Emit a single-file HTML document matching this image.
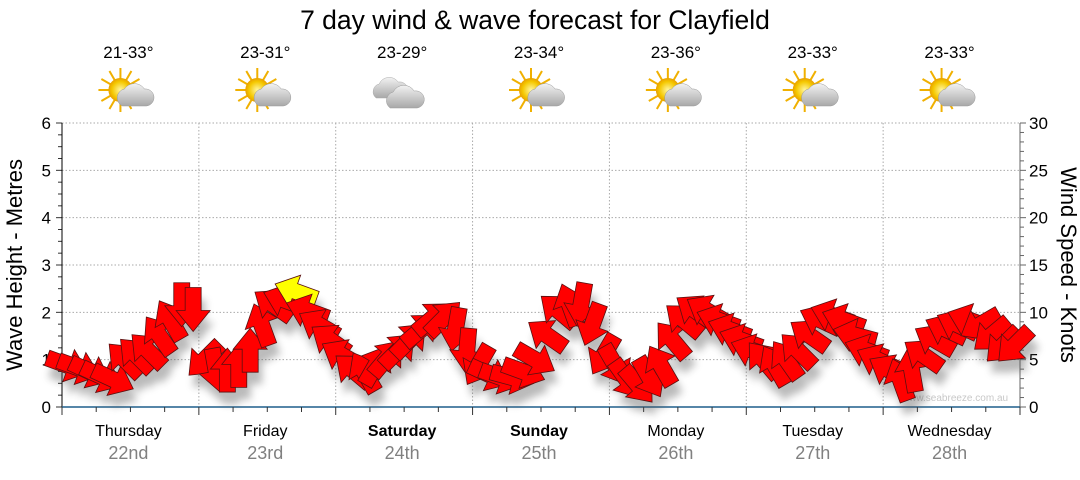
<!DOCTYPE html>
<html><head><meta charset="utf-8"><style>
body{margin:0;background:#fff;}
svg text{font-family:"Liberation Sans","DejaVu Sans",sans-serif;}
</style></head><body>
<svg id="chart" width="1080" height="475" viewBox="0 0 1080 475" xmlns="http://www.w3.org/2000/svg">
<defs>
<filter id="sh" x="-50%" y="-50%" width="200%" height="200%"><feGaussianBlur stdDeviation="4"/></filter>
<radialGradient id="sunG" cx="50%" cy="50%" r="50%"><stop offset="0" stop-color="#fff6a0"/><stop offset="0.7" stop-color="#f5c800"/><stop offset="1" stop-color="#e8a000"/></radialGradient>
<linearGradient id="cloudG" x1="0" y1="0" x2="0" y2="1"><stop offset="0" stop-color="#f2f2f2"/><stop offset="1" stop-color="#a8a8a8"/></linearGradient>
</defs>
<text x="535" y="29" font-size="26.5" text-anchor="middle" fill="#000">7 day wind &amp; wave forecast for Clayfield</text>
<g id="grid"></g>
<g id="axes"></g>
<g id="topg"></g>
<text x="955" y="401" font-size="10" fill="#c8c8c8" text-anchor="middle">www.seabreeze.com.au</text>
<g id="shadows" filter="url(#sh)" opacity="0.4"></g>
<g id="arrows"></g>
<text transform="translate(22,265) rotate(-90)" font-size="22" text-anchor="middle">Wave Height - Metres</text>
<text transform="translate(1061,265) rotate(90)" font-size="22" text-anchor="middle">Wind Speed - Knots</text>
</svg>
<script>
const days = ["Thursday","Friday","Saturday","Sunday","Monday","Tuesday","Wednesday"];
const dates = ["22nd","23rd","24th","25th","26th","27th","28th"];
const boldDays = [false,false,true,true,false,false,false];
const temps = ["21-33°","23-31°","23-29°","23-34°","23-36°","23-33°","23-33°"];
const icons = ["partly","partly","cloudy","partly","partly","partly","partly"];
const waveTicks = [0,1,2,3,4,5,6];
const windTicks = [0,5,10,15,20,25,30];
// wind speed (knots), every 2 hours
const windSpeed = [
4.4,4.1,3.7,3.2,2.9,5.0,5.5,6.0,7.6,9.2,10.8,10.3,
5.0,3.9,3.9,4.4,6.0,8.7,10.8,11.3,12.2,10.2,8.7,7.1,
5.5,3.9,3.7,4.4,5.2,6.0,7.1,8.2,9.4,9.4,8.2,6.0,
4.4,3.4,3.1,3.1,3.7,5.0,7.6,10.2,10.8,10.8,8.7,5.5,
4.4,2.9,2.3,3.1,4.4,7.1,9.2,10.2,10.2,9.2,8.2,7.1,
6.0,5.0,4.4,5.0,6.0,7.6,9.2,9.7,9.2,7.6,6.0,5.0,
3.9,2.9,3.9,5.5,7.1,8.2,8.7,9.2,8.7,7.6,6.5,6.5];
// arrow heading on screen (deg, 0 = pointing right, clockwise)
const windDir = [
20,20,25,25,25,225,225,225,235,240,90,90,
135,80,270,270,270,250,215,200,200,200,210,215,
210,220,240,300,310,315,315,320,320,315,100,95,
120,25,20,15,20,30,215,220,250,100,110,120,
60,55,50,60,240,230,220,215,210,200,200,200,
200,230,240,235,225,215,205,200,200,195,200,205,
210,250,260,215,210,205,205,200,150,140,135,135];

const X0=62,X1=1020,Y0=407,Y1=123;
const dayW=(X1-X0)/7;
const yWave=v=>Y0-(v/6)*(Y0-Y1);
const yWind=v=>Y0-(v/30)*(Y0-Y1);
const xTime=i=>X0+(i+0.5)*dayW/12;
const NS="http://www.w3.org/2000/svg";
function mk(tag,attrs,parent,txt){const e=document.createElementNS(NS,tag);for(const k in attrs)e.setAttribute(k,attrs[k]);if(txt!==undefined)e.textContent=txt;parent.appendChild(e);return e;}
const grid=document.getElementById('grid'),axes=document.getElementById('axes'),topG=document.getElementById('topg');
waveTicks.forEach(v=>{
  if(v>0){const l=mk('line',{x1:X0,x2:X1,y1:yWave(v),y2:yWave(v),stroke:'#aaa','stroke-dasharray':'1.5,2'},grid);
  
  }
  const t=mk('text',{x:51,y:yWave(v)+6,'font-size':17,'text-anchor':'end',fill:'#000'},axes,String(v));
  
  
});
for(let k=0;k<=24;k++){const y=Y0-k*(Y0-Y1)/24;mk('line',{x1:k%4==0?56:58,x2:X0,y1:y,y2:y,stroke:'#333'},axes);}
for(let k=0;k<=30;k++){const y=yWind(k);mk('line',{x1:X1,x2:X1+(k%5==0?6:4),y1:y,y2:y,stroke:'#666'},axes);}
windTicks.forEach(v=>{
  const t=mk('text',{x:1029,y:yWind(v)+6,'font-size':17,fill:'#000'},axes,String(v));
  
  
});
mk('line',{x1:X0,x2:X0,y1:Y1,y2:Y0+6,stroke:'#000'},axes);
mk('line',{x1:X1,x2:X1,y1:Y1,y2:Y0,stroke:'#666'},axes);
mk('line',{x1:X0,x2:X1,y1:Y0,y2:Y0,stroke:'#1f5f8b','stroke-width':1.5},axes);
for(let k=0;k<=28;k++){const x=X0+k*dayW/4;mk('line',{x1:x,x2:x,y1:Y0,y2:Y0+(k%4==0?8:5),stroke:'#333'},axes);}
days.forEach((d,i)=>{
  const cx=X0+(i+0.5)*dayW;
  if(i>0){const l=mk('line',{x1:X0+i*dayW,x2:X0+i*dayW,y1:Y1,y2:Y0,stroke:'#aaa','stroke-dasharray':'1.5,2'},grid);
  
  }
  const a=mk('text',{x:cx-2,y:436,'font-size':16,'text-anchor':'middle','font-weight':boldDays[i]?'bold':'normal'},axes,d);
  
  
  const b=mk('text',{x:cx-2,y:459,'font-size':18,'text-anchor':'middle',fill:'#808080'},axes,dates[i]);
  
  
  const t=mk('text',{x:cx-2,y:58,'font-size':17,'text-anchor':'middle'},topG,temps[i]);
  
  
  const g=mk('g',{transform:`translate(${cx-2},94)`},topG);
  
  
  if(icons[i]=='partly'){
    for(let r=0;r<12;r++){const an=r*30*Math.PI/180;mk('line',{x1:-8+Math.cos(an)*9,y1:-4+Math.sin(an)*9,x2:-8+Math.cos(an)*22,y2:-4+Math.sin(an)*22,stroke:'#f0b000','stroke-width':2},g);}
    mk('circle',{cx:-8,cy:-4,r:12,fill:'url(#sunG)'},g);
    mk('path',{d:'M-6,12 a9,9 0 0 1 2,-17 a12,12 0 0 1 20,0 a8,8 0 0 1 2,17 z',fill:'url(#cloudG)',stroke:'#999','stroke-width':0.5},g);
  } else {
    mk('path',{d:'M-26,4 a8,8 0 0 1 3,-14 a11,11 0 0 1 19,-2 a7,7 0 0 1 3,16 z',fill:'url(#cloudG)',stroke:'#aaa','stroke-width':0.5},g);
    mk('path',{d:'M-12,14 a9,9 0 0 1 3,-16 a12,12 0 0 1 21,-1 a8,8 0 0 1 3,17 z',fill:'url(#cloudG)',stroke:'#999','stroke-width':0.5},g);
  }
});
const arrowPath='M-22,-8 L1,-8 L1,-17 L22,0 L1,17 L1,8 L-22,8 Z';
const sh=document.getElementById('shadows'),ar=document.getElementById('arrows');
windSpeed.forEach((v,i)=>{
  const x=xTime(i),y=yWind(v);
  const s=mk('path',{d:arrowPath,transform:`translate(${x+4},${y+12}) rotate(${windDir[i]})`,fill:'#555'},sh);
  
  
  const p=mk('path',{d:arrowPath,transform:`translate(${x},${y}) rotate(${windDir[i]})`,fill:v>=12?'#ffff00':'#ff0000',stroke:'#5a1010','stroke-width':0.8},ar);
  
  
});
</script>
</body></html>
